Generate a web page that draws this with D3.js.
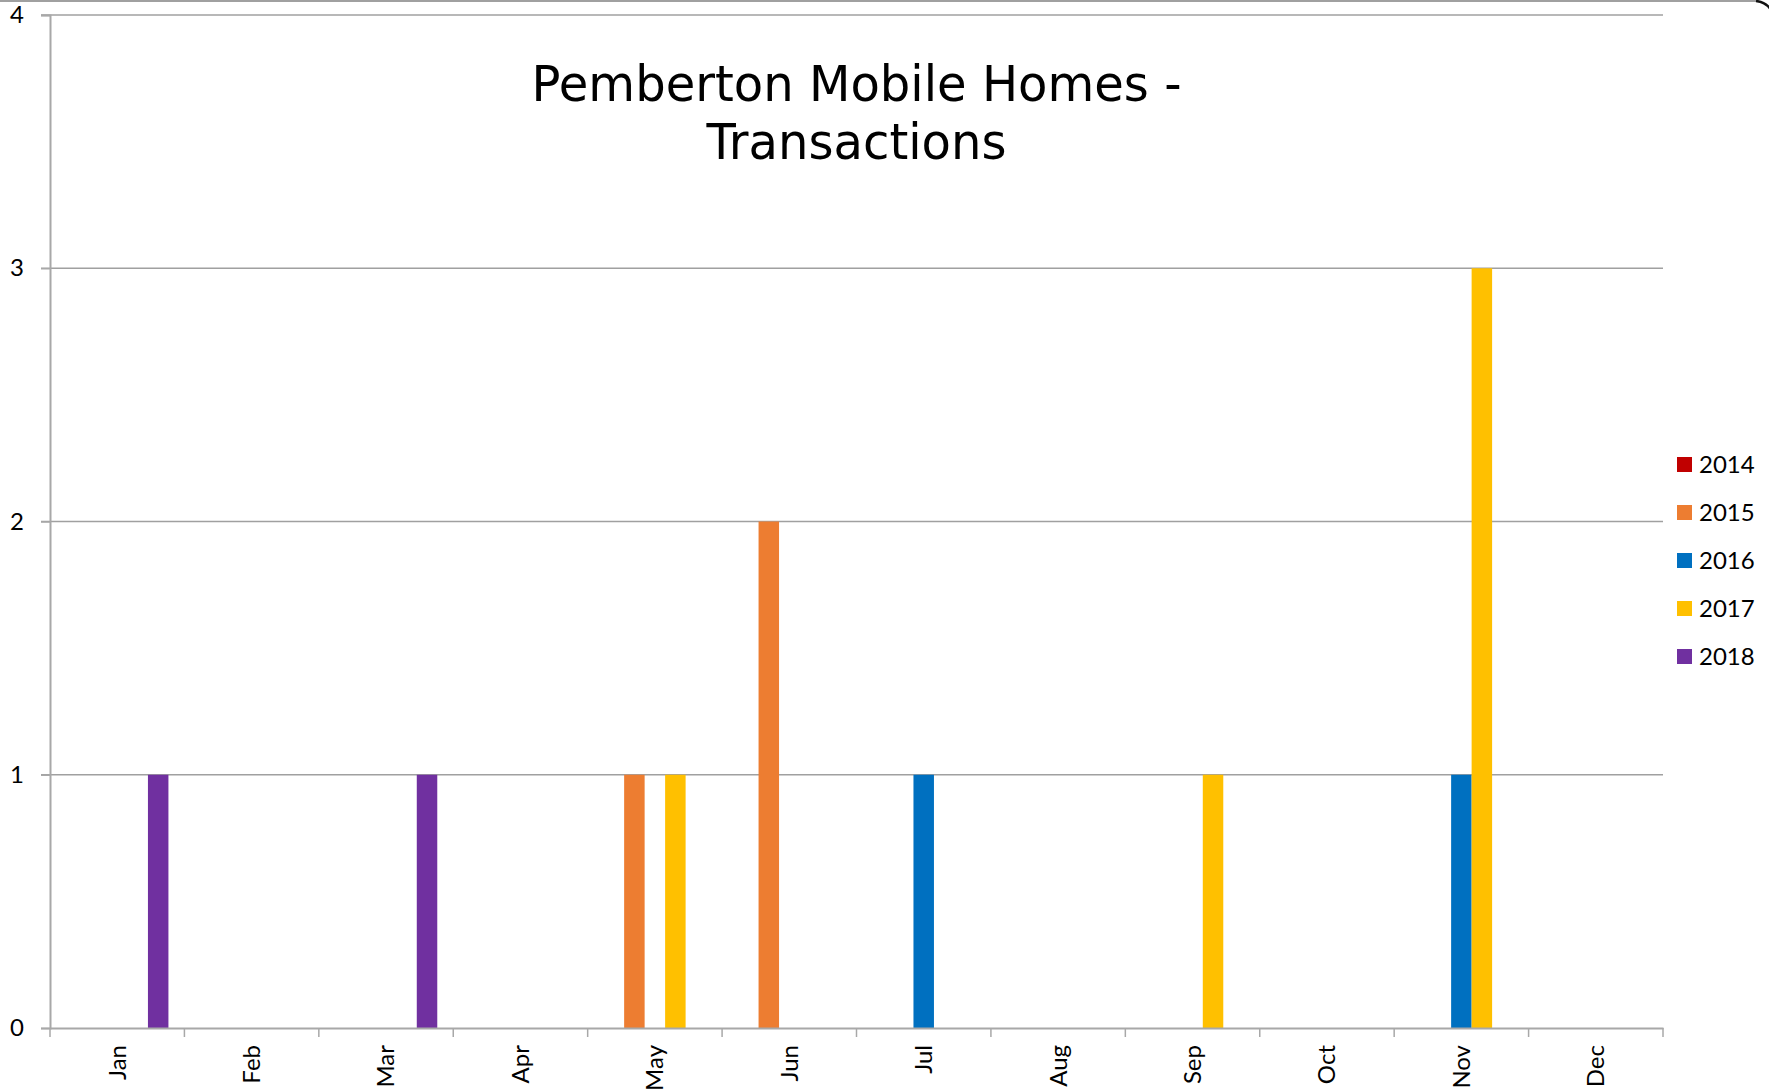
<!DOCTYPE html>
<html>
<head>
<meta charset="utf-8">
<script src="https://cdn.jsdelivr.net/npm/d3@7"></script>
<style>
  body { margin: 0; background: #fff; }
  svg { display: block; }
</style>
</head>
<body>
<svg id="chart" width="1769" height="1091"></svg>
<script>
// Chart data
const months = ["Jan", "Feb", "Mar", "Apr", "May", "Jun", "Jul", "Aug", "Sep", "Oct", "Nov", "Dec"];
const years = ["2014", "2015", "2016", "2017", "2018"];
const colors = ["#C00000", "#ED7D31", "#0070C0", "#FFC000", "#7030A0"];
const yTicks = [0, 1, 2, 3, 4];

const s2014 = [0, 0, 0, 0, 0, 0, 0, 0, 0, 0, 0, 0];
const s2015 = [0, 0, 0, 0, 1, 2, 0, 0, 0, 0, 0, 0];
const s2016 = [0, 0, 0, 0, 0, 0, 1, 0, 0, 0, 1, 0];
const s2017 = [0, 0, 0, 0, 1, 0, 0, 0, 1, 0, 3, 0];
const s2018 = [1, 0, 1, 0, 0, 0, 0, 0, 0, 0, 0, 0];
const series = [s2014, s2015, s2016, s2017, s2018];

const titleLines = ["Pemberton Mobile Homes -", "Transactions"];

// Layout
const plot = { left: 50, right: 1663, top: 15, bottom: 1028 };
const svg = d3.select("#chart");
const labelFont = "Lato, 'Open Sans', sans-serif";

// Border of the chart area (top edge + rounded corner)
svg.append("line")
  .attr("x1", 0).attr("x2", 1756)
  .attr("y1", 1).attr("y2", 1)
  .attr("stroke", "#a0a0a0").attr("stroke-width", 2);
svg.append("path")
  .attr("d", "M1756,1 Q1766,2 1771,10")
  .attr("fill", "none").attr("stroke", "#111").attr("stroke-width", 2.5);

// Scales
const x0 = d3.scaleBand().domain(months).range([plot.left, plot.right]).paddingInner(0).paddingOuter(0);
const x1 = d3.scaleBand().domain(years).range([0, x0.bandwidth()]).paddingInner(0).paddingOuter(0.78);
const y = d3.scaleLinear().domain([0, 4]).range([plot.bottom, plot.top]);

// Gridlines
svg.append("g")
  .selectAll("line")
  .data(yTicks.filter(d => d > 0))
  .join("line")
  .attr("x1", plot.left - 9).attr("x2", plot.right)
  .attr("y1", d => y(d)).attr("y2", d => y(d))
  .attr("stroke", "#a0a0a0").attr("stroke-width", 1.5);

// Bars
const bars = [];
series.forEach((vals, si) => {
  vals.forEach((v, mi) => {
    if (v > 0) bars.push({ month: months[mi], year: years[si], value: v, color: colors[si] });
  });
});

svg.append("g")
  .selectAll("rect")
  .data(bars)
  .join("rect")
  .attr("x", d => x0(d.month) + x1(d.year))
  .attr("width", x1.bandwidth())
  .attr("y", d => y(d.value))
  .attr("height", d => y(0) - y(d.value))
  .attr("fill", d => d.color);

// Y axis
const yAxis = svg.append("g")
  .attr("transform", `translate(${plot.left},0)`)
  .call(d3.axisLeft(y).tickValues(yTicks).tickSize(9).tickFormat(d3.format("d")));
yAxis.select(".domain").attr("stroke", "#a8a8a8").attr("stroke-width", 2);
yAxis.selectAll(".tick line").attr("stroke", "#a8a8a8").attr("stroke-width", 1.5);
yAxis.selectAll(".tick text")
  .attr("x", -26)
  .style("font-family", labelFont)
  .style("font-size", "24px")
  .attr("fill", "#000");

// X axis
const xAxis = svg.append("g")
  .attr("transform", `translate(0,${plot.bottom})`)
  .call(d3.axisBottom(x0).tickSize(0).tickSizeOuter(0));
xAxis.select(".domain").attr("stroke", "#a8a8a8").attr("stroke-width", 2);
xAxis.selectAll(".tick text")
  .attr("transform", "rotate(-90)")
  .attr("x", -17)
  .attr("y", 0)
  .attr("dy", "0.35em")
  .attr("text-anchor", "end")
  .style("font-family", labelFont)
  .style("font-size", "24px")
  .attr("fill", "#000");

// Category boundary ticks
svg.append("g")
  .selectAll("line")
  .data(d3.range(months.length + 1))
  .join("line")
  .attr("x1", i => plot.left + i * x0.step())
  .attr("x2", i => plot.left + i * x0.step())
  .attr("y1", plot.bottom).attr("y2", plot.bottom + 9)
  .attr("stroke", "#a8a8a8").attr("stroke-width", 1.5);

// Title
const title = svg.append("text")
  .attr("text-anchor", "middle")
  .style("font-family", "'DejaVu Sans', Verdana, sans-serif")
  .style("font-size", "50px")
  .attr("fill", "#000");
title.selectAll("tspan")
  .data(titleLines)
  .join("tspan")
  .attr("x", (plot.left + plot.right) / 2)
  .attr("y", (d, i) => 101 + i * 58)
  .text(d => d);
// squeeze both lines so the first matches the reference width
const w1 = title.select("tspan").node().getComputedTextLength();
const k = 650 / w1;
title.selectAll("tspan").each(function () {
  const w = this.getComputedTextLength();
  this.setAttribute("textLength", w * k);
  this.setAttribute("lengthAdjust", "spacingAndGlyphs");
});

// Legend
const legend = svg.append("g")
  .selectAll("g")
  .data(years)
  .join("g")
  .attr("transform", (d, i) => `translate(1677,${457 + i * 48})`);
legend.append("rect")
  .attr("width", 15).attr("height", 15)
  .attr("fill", (d, i) => colors[i]);
legend.append("text")
  .attr("x", 22).attr("y", 8)
  .attr("dy", "0.35em")
  .style("font-family", labelFont)
  .style("font-size", "24px")
  .attr("fill", "#000")
  .text(d => d);
</script>
</body>
</html>
